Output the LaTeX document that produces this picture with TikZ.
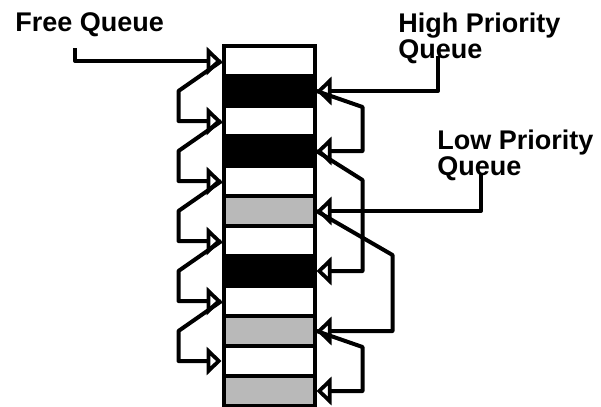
\documentclass[tikz,border=0pt]{standalone}
\usepackage{fontspec}
\setmainfont{Liberation Sans}
\usetikzlibrary{arrows.meta}
\definecolor{dc}{RGB}{185,185,185}
\tikzset{qc/.style={draw,line width=2pt,minimum width=45.5pt,minimum height=15pt,inner sep=0pt},
 wc/.style={qc,fill=white},bc/.style={qc,fill=black},gc/.style={qc,fill=dc},
 lnk/.style={line width=2pt,line join=round,-{Triangle[open,length=7.5pt,width=14pt]}},
 lbl/.style={anchor=north west,align=left,inner sep=0pt,font=\fontsize{13.5}{13}\selectfont\bfseries}}

\begin{document}
\begin{tikzpicture}[x=0.5pt,y=-0.5pt]
\useasboundingbox (0,0) rectangle (601,407);
% queue cells, top to bottom
\foreach \s [count=\i from 0] in {wc,bc,wc,bc,wc,gc,wc,bc,wc,gc,wc,gc}
 \node[\s] (c\i) at (269,{61+30*\i}) {};
% labels
\node[lbl] (free) at (15,12) {Free Queue};
\node[lbl] (high) at (398,13) {High Priority\\Queue};
\node[lbl] (low) at (437,130) {Low Priority\\Queue};
\coordinate (fq) at (75,48);
\coordinate (hq) at (438,56);
\coordinate (lq) at (481,174);
% free list on the left
\draw[lnk] (fq) |- (c0.west);
\foreach \a/\b in {0/2,2/4,4/6,6/8,8/10}
 \draw[lnk] (c\a.west) -- ++(-43,30) |- (c\b.west);
% high priority
\draw[lnk] (hq) |- (c1.east);
\draw[lnk] (c1.east) -- ++(46,16) |- (c3.east);
\draw[lnk] (c3.east) -- ++(46,29) |- (c7.east);
% low priority
\draw[lnk] (lq) |- (c5.east);
\draw[lnk] (c5.east) -- ++(76,44) |- (c9.east);
\draw[lnk] (c9.east) -- ++(46,16) |- (c11.east);
\end{tikzpicture}
\end{document}
